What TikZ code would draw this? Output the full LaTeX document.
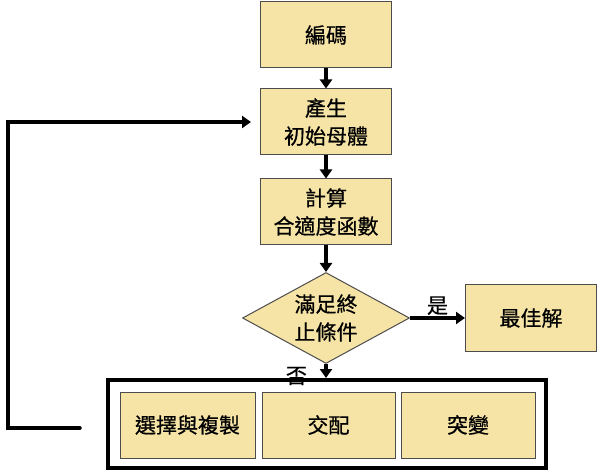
\documentclass[tikz,border=0pt]{standalone}
\usepackage{fontspec}
\newfontfamily\cjk[FakeBold=0.6]{Noto Sans CJK TC}
\usetikzlibrary{shapes.geometric,arrows.meta}
\definecolor{boxfill}{RGB}{246,228,167}

\begin{document}
\begin{tikzpicture}[x=1pt,y=-1pt,font=\cjk\fontsize{21}{28}\selectfont,
  box/.style={draw=black!70,line width=1pt,fill=boxfill,minimum height=66pt,align=center,inner sep=0pt},
  link/.style={line width=3.5pt,-{Triangle[length=9pt,width=12pt]}}]
  \useasboundingbox (0,0) rectangle (600,473);
  % main column
  \node[box,minimum width=131pt] (code) at (326,35) {編碼};
  \node[box,minimum width=131pt] (init) at (326,122) {產生\\初始母體};
  \node[box,minimum width=131pt] (fit) at (326,212) {計算\\合適度函數};
  \node[diamond,aspect=1.83,draw=black!70,line width=1pt,fill=boxfill,minimum width=167pt,minimum height=91pt,
    inner sep=0pt,align=center] (stop) at (326,318) {滿足終\\止條件};
  \node[box,minimum width=131pt] (best) at (531,318) {最佳解};
  % operators
  \node[draw,line width=4pt,minimum width=438pt,minimum height=88pt] (ops) at (327,424) {};
  \foreach \x/\w/\name/\txt in {187.5/135/sel/選擇與複製,328.5/133/cross/交配,468/134/mut/突變}
    \node[box,minimum width=\w pt] (\name) at (\x,425) {\txt};
  % arrows
  \draw[link] (code) -- (init);
  \draw[link] (init) -- (fit);
  \draw[link] (fit) -- (stop);
  \draw[link] (stop) -- node[above,yshift=-2pt]{是} (best);
  \draw[link] (stop) -- node[left,xshift=-14pt,yshift=-5pt]{否} (ops.north -| stop.south);
  \coordinate (back) at (80,428);
  \coordinate (turn) at (8,428);
  \draw[link,line cap=round,shorten >=9pt] (back) -- (turn) |- (init.west);
\end{tikzpicture}
\end{document}
